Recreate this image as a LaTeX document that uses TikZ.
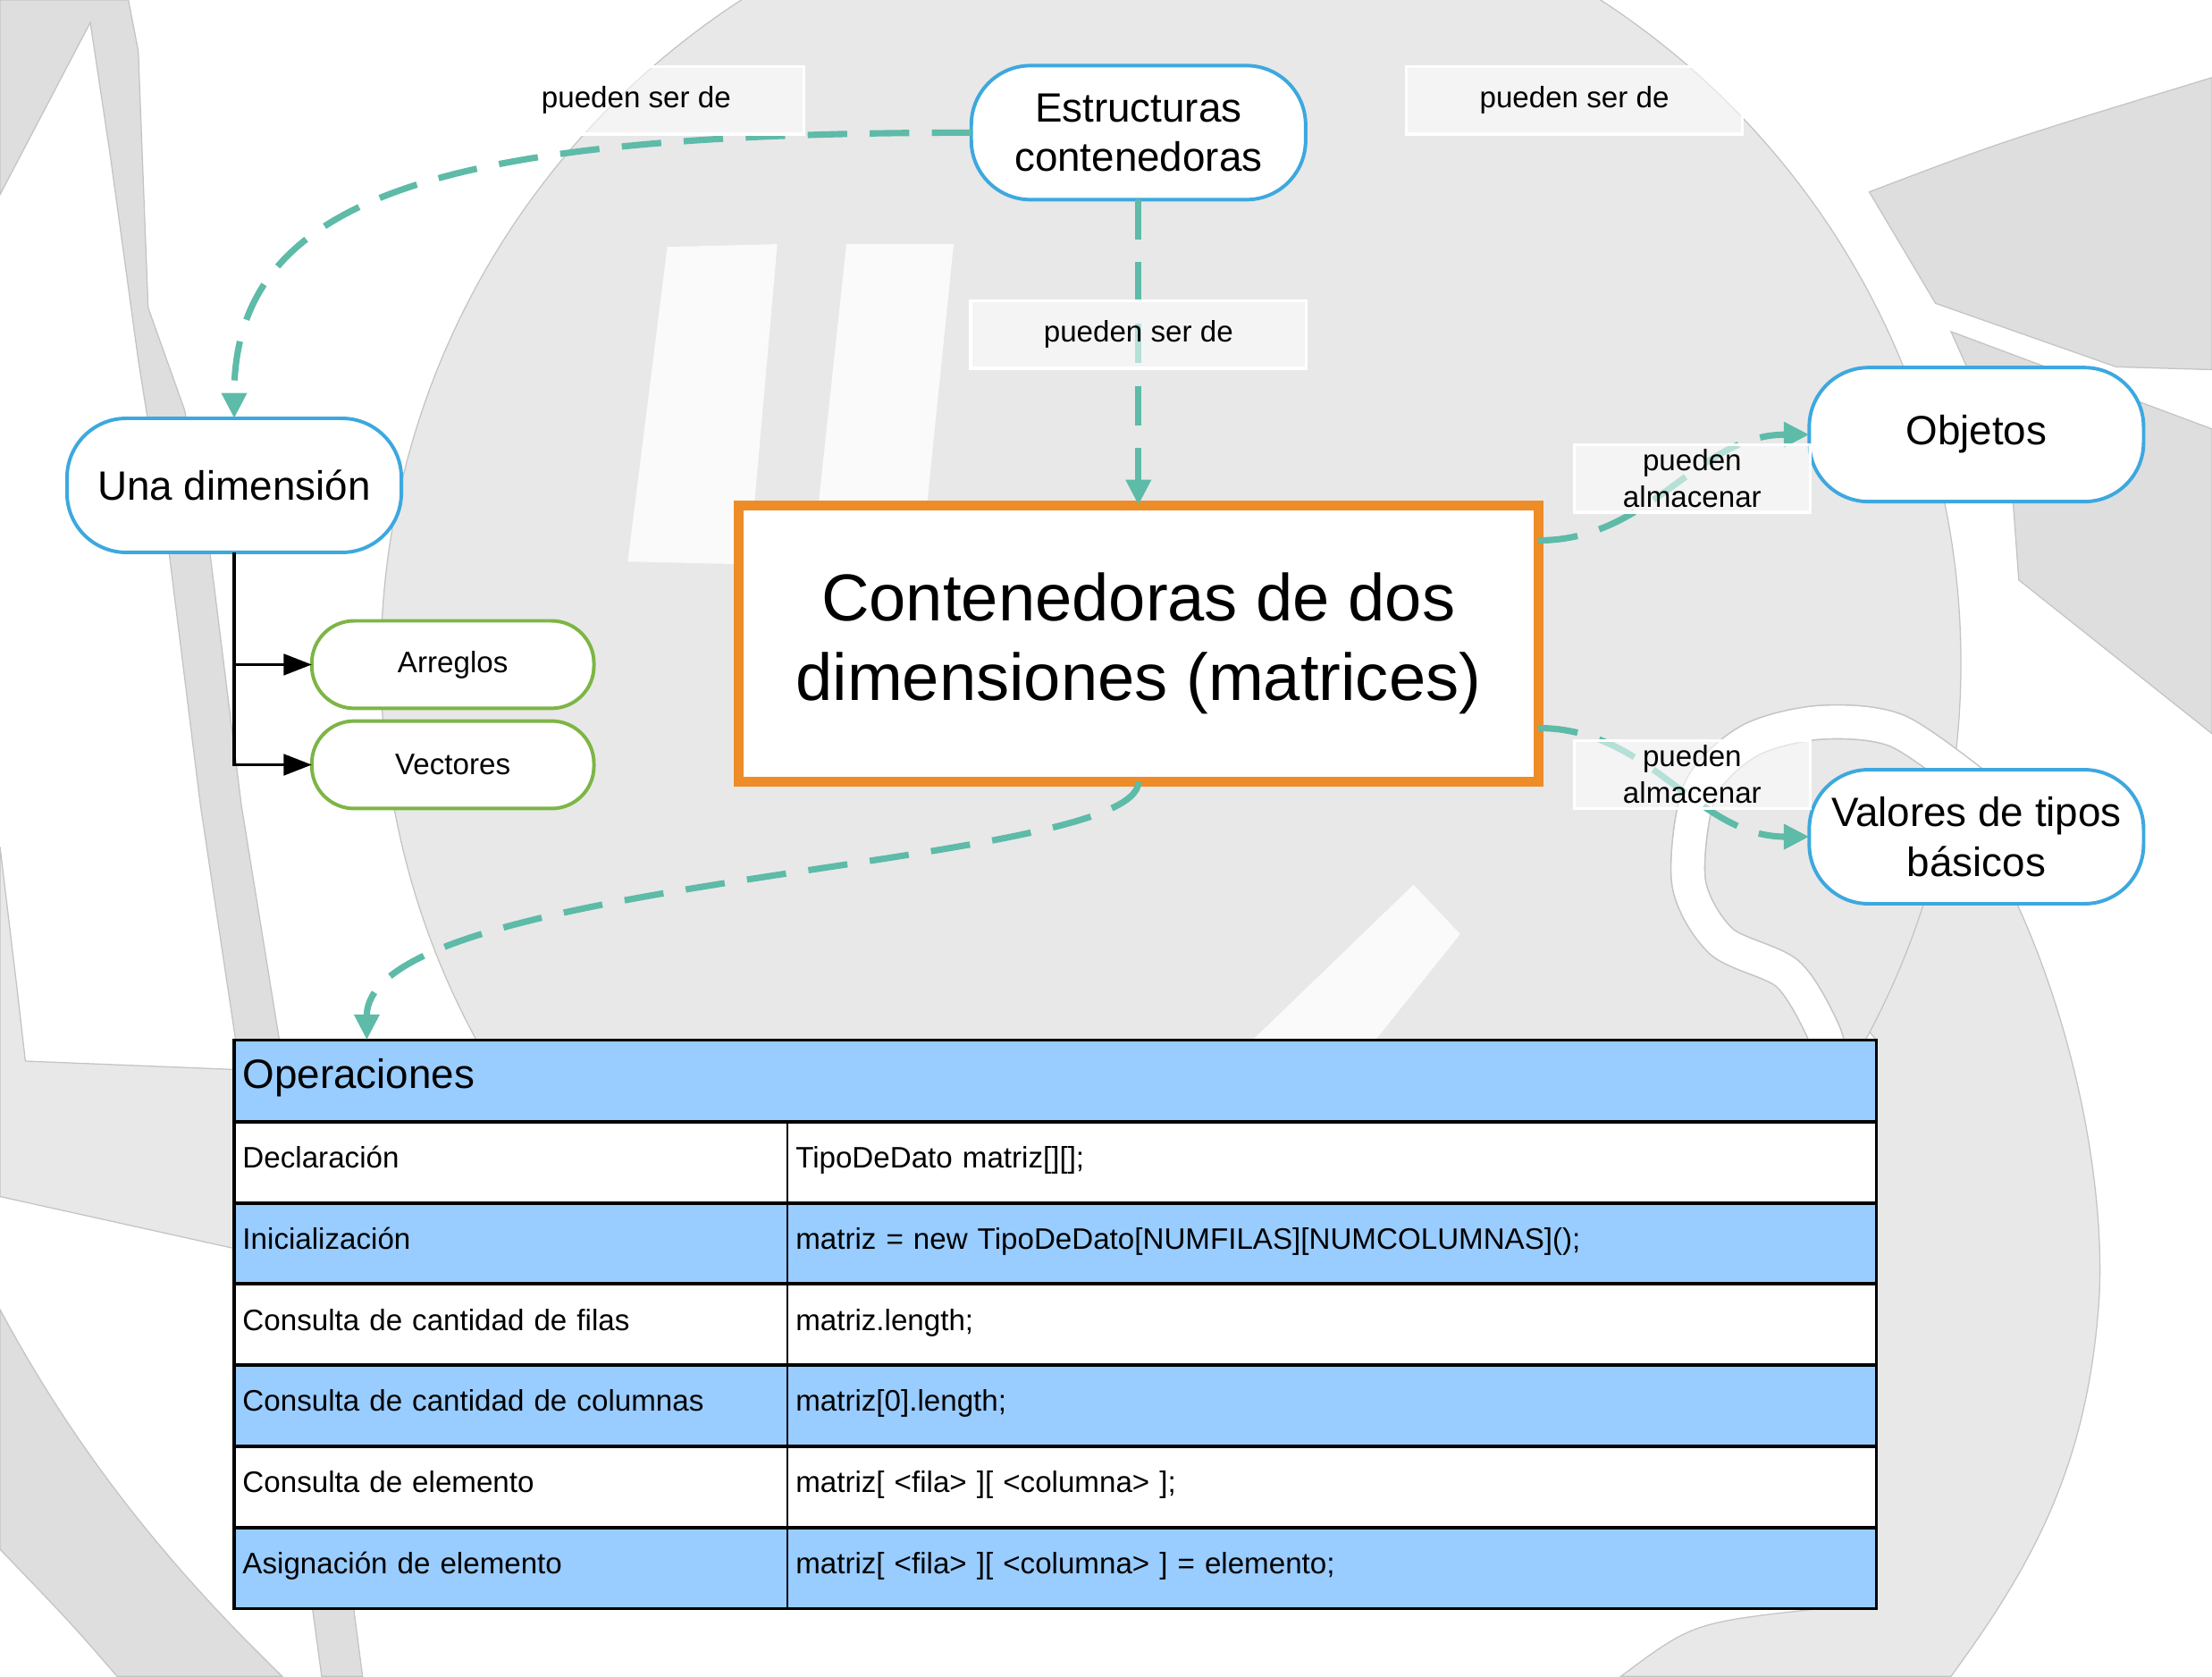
\documentclass[tikz,border=0pt]{standalone}
\usepackage{fontspec}
\setmainfont{Liberation Sans}
\usetikzlibrary{arrows.meta,calc}

\definecolor{cblue}{HTML}{3DA8DF}
\definecolor{cgreen}{HTML}{7DB546}
\definecolor{corange}{HTML}{EE8C27}
\definecolor{cteal}{HTML}{5DBBA8}
\definecolor{tblue}{HTML}{99CCFF}
\definecolor{bgdisc}{HTML}{E8E8E8}
\definecolor{bgband}{HTML}{DEDEDE}
\definecolor{bgedge}{HTML}{C4C4C4}
\definecolor{bglight}{HTML}{FAFAFA}

\begin{document}
\begin{tikzpicture}[x = 1pt, y = -1pt,
	bgshape/.style = {fill = bgdisc, draw = bgedge, line width = 0.8pt},
	bgdark/.style = {fill = bgband, draw = bgedge, line width = 0.8pt},
	conc/.style = {draw = cblue, line width = 2.5pt, fill = white,
				   rounded corners = 42pt, minimum width = 237pt,
				   minimum height = 95pt, align = center, outer sep = 0pt,
				   font = \fontsize{29}{35}\selectfont},
	subc/.style = {draw = cgreen, line width = 2.5pt, fill = white,
				   rounded corners = 30pt, minimum width = 200pt,
				   minimum height = 62pt, outer sep = 0pt,
				   font = \fontsize{21}{25}\selectfont},
	mainbox/.style = {draw = corange, line width = 7pt, fill = white,
				   minimum width = 567pt, minimum height = 196pt,
				   align = center, outer sep = 0pt,
				   font = \fontsize{47}{56.5}\selectfont},
	lbl/.style = {fill = white, fill opacity = 0.55, text opacity = 1,
				   draw = white, line width = 2pt, minimum width = 238pt,
				   minimum height = 48pt, align = center,
				   font = \fontsize{21}{26}\selectfont},
	link/.style = {draw = cteal, line width = 4.5pt,
				   dash pattern = on 28pt off 16pt,
				   -{Triangle[length = 18pt, width = 17pt]}},
	tree/.style = {draw = black, line width = 2pt,
				   -{Triangle[length = 20pt, width = 15pt]}},
	tblhead/.style = {anchor = north west, fill = tblue, text width = 1152pt,
				   inner xsep = 6pt, minimum height = 58pt, outer sep = 0pt,
				   text height = 20pt, text depth = 9pt,
				   align = left, font = \fontsize{29}{35}\selectfont},
	cellop/.style = {anchor = north west, text width = 380pt,
				   inner xsep = 6pt, minimum height = 57.5pt, outer sep = 0pt,
				   text height = 14pt, text depth = 6pt,
				   align = left, font = \fontsize{21}{25}\selectfont},
	cellcode/.style = {anchor = north west, text width = 760pt,
				   inner xsep = 6pt, minimum height = 57.5pt, outer sep = 0pt,
				   text height = 14pt, text depth = 6pt,
				   align = left, font = \fontsize{21}{25}\selectfont}
]
	\useasboundingbox (0, 0) rectangle (1568, 1188);

	\begin{scope}
		\clip (0, 0) rectangle (1568, 1188);
		\filldraw[bgdark] (0, 0) -- (91, 0) -- (98, 36) -- (105, 218) -- (131, 291)
			-- (149, 393) -- (171, 570) -- (198, 737) -- (257, 1188) -- (228, 1188)
			-- (167, 737) -- (142, 570) -- (120, 393) -- (98, 255) -- (78, 109)
			-- (64, 16) -- (0, 138) -- cycle;
		\filldraw[bgshape] (0, 600) -- (12, 700) -- (18, 752) -- (167, 758)
			-- (167, 885) -- (0, 848) -- cycle;
		\filldraw[bgdark] (0, 928) .. controls (60, 1040) and (130, 1120) .. (200, 1188)
			-- (83, 1188) .. controls (50, 1150) .. (0, 1098) -- cycle;
		\filldraw[bgdark] (1325, 136) .. controls (1420, 100) .. (1568, 55)
			-- (1568, 262) -- (1500, 260) -- (1372, 215) -- cycle;
		\filldraw[bgdark] (1383, 235) -- (1568, 304) -- (1568, 520) -- (1431, 411)
			-- (1427, 356) -- (1395, 262) -- cycle;
		\filldraw[bgshape] (1376, 527) .. controls (1420, 570) .. (1430, 641)
			.. controls (1475, 740) and (1492, 850) .. (1488, 920)
			.. controls (1480, 1040) and (1440, 1110) .. (1383, 1188)
			-- (1149, 1188) .. controls (1200, 1150) .. (1290, 1140)
			-- (1330, 1100) -- (1330, 737) -- (1180, 560) -- cycle;
		\filldraw[bgshape] (830, 470) circle (560pt);
		\fill[bglight] (473, 175) -- (551, 173) -- (531, 400) -- (445, 398) -- cycle;
		\fill[bglight] (600, 173) -- (676, 173) -- (655, 378) -- (578, 378) -- cycle;
		\fill[bglight] (1002, 627) -- (1035, 662) -- (975, 737) -- (888, 737) -- cycle;
		\draw[draw = bgedge, line width = 1pt, double = white, double distance = 23pt]
			plot[smooth] coordinates {(1405, 560) (1345, 518) (1290, 512) (1240, 525)
			(1205, 560) (1197, 625) (1220, 667) (1267, 690) (1292, 730) (1300, 760)};
	\end{scope}

	\draw (807, 94) node[conc](est){Estructuras\\contenedoras};
	\draw (166, 344) node[conc](una){Una dimensión};
	\draw (1401, 308) node[conc](obj){Objetos};
	\draw (1401, 593) node[conc](val){Valores de tipos\\básicos};
	\draw (321, 471) node[subc](arr){Arreglos};
	\draw (321, 542) node[subc](vec){Vectores};
	\draw (807, 456) node[mainbox](main){Contenedoras de dos\\dimensiones (matrices)};

	\draw (166, 737) node[tblhead](ops){Operaciones};
	\foreach \op/\code/\bg [count = \i] in {
		Declaración/{TipoDeDato matriz[][];}/white,
		Inicialización/{matriz = new TipoDeDato[NUMFILAS][NUMCOLUMNAS]();}/tblue,
		Consulta de cantidad de filas/{matriz.length;}/white,
		Consulta de cantidad de columnas/{matriz[0].length;}/tblue,
		Consulta de elemento/{matriz[ <fila> ][ <columna> ];}/white,
		Asignación de elemento/{matriz[ <fila> ][ <columna> ] = elemento;}/tblue}
	{
		\pgfmathsetmacro{\ry}{795 + 57.5*(\i - 1)}
		\draw (166, \ry) node[cellop, fill = \bg](op\i){\op};
		\draw (558, \ry) node[cellcode, fill = \bg](code\i){\code};
	}
	\foreach \i in {1, ..., 6}
		\draw[line width = 2.5pt] (op\i.north west) -- (code\i.north east);
	\draw[line width = 1.2pt] (code1.north west) -- (code6.south west);
	\draw[line width = 2pt] (ops.north west) rectangle (code6.south east);
	\coordinate (opin) at ($(ops.north west) + (94, 0)$);

	\draw[tree] (una.south) |- (arr.west);
	\draw[tree] (una.south) |- (vec.west);

	\draw[link] (est.west) .. controls +(-370, 0) and +(0, -160) .. (una.north);
	\draw[link] (est.south) -- (main.north);
	\draw[link] ([yshift = 73pt]main.east) .. controls +(80, 0) and +(-80, 0) .. (obj.west);
	\draw[link] ([yshift = -60pt]main.east) .. controls +(80, 0) and +(-80, 0) .. (val.west);
	\draw[link] (main.south) .. controls +(0, 62) and +(0, -117) .. (opin);

	\draw (451, 71) node[lbl](l1){pueden ser de};
	\draw (1116, 71) node[lbl](l2){pueden ser de};
	\draw (807, 237) node[lbl](l3){pueden ser de};
	\draw (1199.5, 339) node[lbl, minimum width = 167pt](l4){pueden\\almacenar};
	\draw (1199.5, 549) node[lbl, minimum width = 167pt](l5){pueden\\almacenar};
\end{tikzpicture}
\end{document}
